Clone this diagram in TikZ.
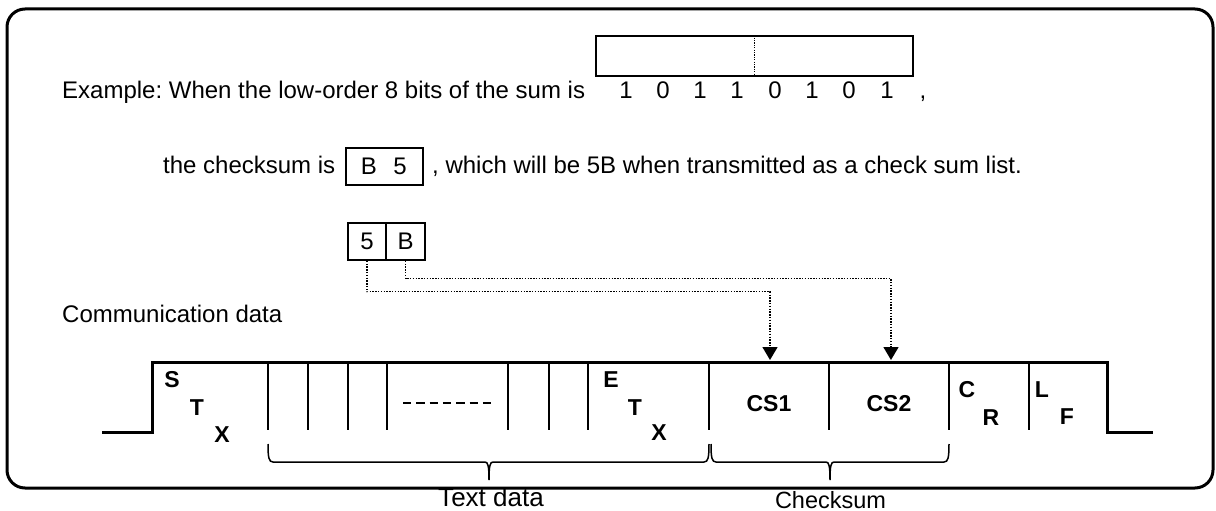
\documentclass[tikz,border=0pt]{standalone}
\usepackage{fontspec}
\setmainfont{Liberation Sans}
\usetikzlibrary{arrows.meta}
\frenchspacing
\newcommand\mybrace[3]{%
  \draw[line width=1.5pt] (#1,444) .. controls (#1,458) and (#1+1,462) .. (#1+5,462)
    -- (#3-4,462) .. controls (#3-1,462) and (#3,466) .. (#3,480)
    .. controls (#3,466) and (#3+1,462) .. (#3+4,462)
    -- (#2-5,462) .. controls (#2-1,462) and (#2,458) .. (#2,444);}
\begin{document}
\begin{tikzpicture}[x=1pt,y=-1pt,
  txt/.style={inner sep=0pt, font=\fontsize{24}{28}\selectfont},
  lbl/.style={inner sep=0pt, font=\fontsize{23}{27}\selectfont\bfseries},
  cell/.style={draw, line width=1.5pt, inner sep=0pt, font=\fontsize{24}{28}\selectfont},
  sig/.style={line width=3pt},
  sepline/.style={line width=2pt},
  dotline/.style={line width=1.4pt, dash pattern=on 1.4pt off 1.4pt, -{Triangle[length=13pt,width=15pt]}}
]
\useasboundingbox (0,0) rectangle (1216,511);
% frame
\draw[line width=3pt, rounded corners=18pt] (7,9) rectangle (1213,488);

% line 1
\node[txt, anchor=base west] (ex) at (62,99) {Example: When the low-order 8 bits of the sum is};
\node[cell, minimum width=317pt, minimum height=40pt] (bits) at (754.5,56) {};
\draw[line width=1.2pt, dash pattern=on 1.2pt off 1.2pt] (bits.north) -- (bits.south);
\foreach \xx/\b [count=\i] in {626/1,663/0,700/1,737/1,775/0,812/1,849/0,887/1}
  \node[txt, anchor=base] (bit\i) at (\xx,99) {\b};
\node[txt, anchor=base] (comma) at (923,99) {,};

% line 2
\node[txt, anchor=base west] (cs) at (163,173) {the checksum is};
\node[cell, minimum width=77pt, minimum height=37pt] (b5box) at (384.5,166.5) {};
\node[txt] (bB) at (369,166.5) {B};
\node[txt] (b5) at (400,166.5) {5};
\node[txt, anchor=base west] (which) at (432,173) {, which will be 5B when transmitted as a check sum list.};

% 5 | B cells
\node[cell, minimum width=38pt, minimum height=37pt] (c5) at (367,241.5) {5};
\node[cell, minimum width=39pt, minimum height=37pt] (cB) at (405.5,241.5) {B};

% communication data
\node[txt, anchor=base west] (comm) at (62,322) {Communication data};

% signal
\draw[sig] (102,432) -- (152,432) -- (152,362) -- (1107,362) -- (1107,432) -- (1153,432);
\foreach \xx in {268,308,348,387,508,549,588,709,829,949,1029}
  \draw[sepline] (\xx,363) -- (\xx,430);
\draw[line width=1.5pt, dash pattern=on 8.3pt off 5pt] (403,403) -- (495,403);

% field labels
\node[lbl] (s1) at (172,380) {S};
\node[lbl] (s2) at (197,408) {T};
\node[lbl] (s3) at (222,435) {X};
\node[lbl] (e1) at (611,380) {E};
\node[lbl] (e2) at (635,408) {T};
\node[lbl] (e3) at (659,433) {X};
\node[lbl] (cs1) at (769,404) {CS1};
\node[lbl] (cs2) at (889,404) {CS2};
\node[lbl] (cr1) at (967,390) {C};
\node[lbl] (cr2) at (991,418) {R};
\node[lbl] (lf1) at (1042,390) {L};
\node[lbl] (lf2) at (1067,417) {F};

% arrows
\coordinate (t1) at (770,360);
\coordinate (t2) at (891,360);
\draw[dotline] (c5.south) -- ++(0,31) -| (t1);
\draw[dotline] (cB.south) -- ++(0,18) -| (t2);

% braces
\mybrace{268}{709}{489}
\mybrace{711}{949}{830}
\node[inner sep=0pt, font=\fontsize{26}{30}\selectfont, anchor=base] (td) at (491,506) {Text data};
\node[inner sep=0pt, font=\fontsize{23.5}{28}\selectfont, anchor=base] (ck) at (830.5,508) {Checksum};
\end{tikzpicture}
\end{document}
